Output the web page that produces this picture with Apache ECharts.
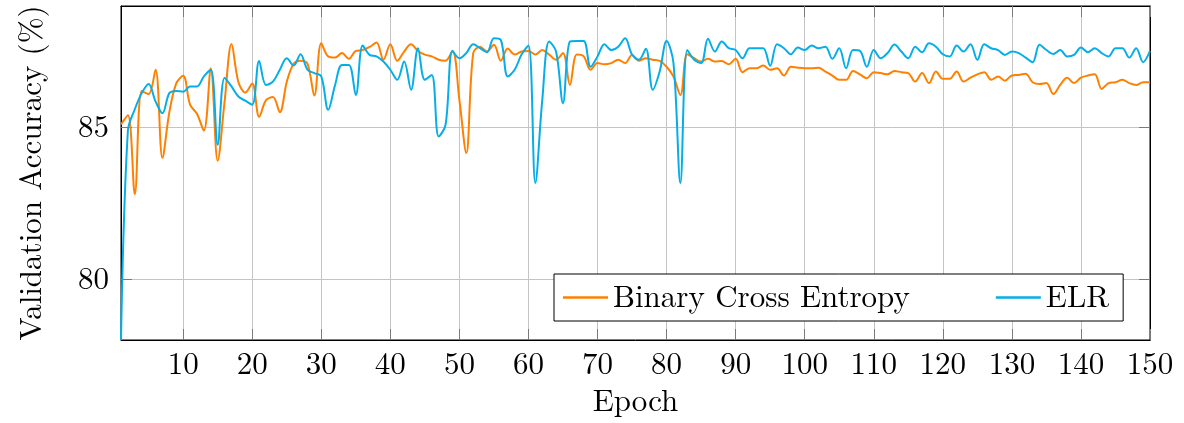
<!DOCTYPE html>
<html>
<head>
<meta charset="utf-8">
<script src="https://cdn.jsdelivr.net/npm/echarts@6/dist/echarts.min.js"></script>
<style>
  html, body { margin: 0; padding: 0; background: #fff; }
  #chart { width: 1184px; height: 423px; }
</style>
</head>
<body>
<div id="chart"></div>
<script>
// Validation accuracy (%) per epoch for two training losses
const seriesNames = ['Binary Cross Entropy', 'ELR'];
const xTicks = [10, 20, 30, 40, 50, 60, 70, 80, 90, 100, 110, 120, 130, 140, 150];
const yTicks = [80, 85];

const bce = [
  85.1, 85.4, 82.8, 86.2, 86.1, 86.9, 84.0, 85.5, 86.45, 86.7,
  85.75, 85.45, 84.9, 86.95, 83.9, 85.85, 87.75, 86.5, 86.15, 86.45,
  85.35, 85.9, 86.0, 85.5, 86.5, 87.1, 87.2, 87.1, 86.05, 87.77,
  87.34, 87.3, 87.45, 87.26, 87.52, 87.55, 87.65, 87.8, 87.23, 87.74,
  87.2, 87.5, 87.74, 87.52, 87.4, 87.34, 87.23, 87.2, 87.52, 85.9,
  84.16, 87.45, 87.66, 87.5, 87.72, 87.2, 87.6, 87.4, 87.5, 87.52,
  87.4, 87.55, 87.4, 87.23, 87.45, 86.4, 87.4, 87.34, 86.9, 87.12,
  87.08, 87.12, 87.23, 87.12, 87.39, 87.2, 87.28, 87.23, 87.19, 87.0,
  86.68, 86.07, 87.41, 87.28, 87.17, 87.26, 87.17, 87.19, 87.08, 87.26,
  86.82, 86.95, 86.95, 87.04, 86.9, 86.95, 86.71, 87.0, 86.97, 86.95,
  86.95, 86.97, 86.84, 86.71, 86.57, 86.57, 86.86, 86.75, 86.62, 86.82,
  86.79, 86.75, 86.86, 86.82, 86.79, 86.51, 86.79, 86.46, 86.84, 86.6,
  86.6, 86.84, 86.51, 86.64, 86.75, 86.82, 86.57, 86.68, 86.54, 86.71,
  86.73, 86.77, 86.49, 86.43, 86.46, 86.1, 86.4, 86.64, 86.46, 86.64,
  86.71, 86.75, 86.27, 86.46, 86.49, 86.57, 86.46, 86.4, 86.49, 86.49
];

const elr = [
  78.0, 84.9, 85.6, 86.13, 86.43, 85.86, 85.47, 86.13, 86.2, 86.18,
  86.35, 86.35, 86.68, 86.9, 84.43, 86.64, 86.35, 86.02, 85.88, 85.75,
  87.19, 86.4, 86.51, 86.9, 87.28, 87.04, 87.41, 86.9, 86.79, 86.68,
  85.58, 86.4, 87.06, 87.06, 86.07, 87.7, 87.39, 87.34, 87.17, 86.9,
  86.57, 87.17, 86.24, 87.61, 86.57, 86.73, 84.7, 85.09, 87.52, 87.28,
  87.45, 87.74, 87.61, 87.48, 87.94, 87.88, 86.68, 86.9, 87.4, 87.7,
  83.17, 85.9, 87.83, 87.5, 85.8, 87.83, 87.85, 87.85, 87.0, 87.34,
  87.74, 87.55, 87.66, 87.94, 87.4, 87.23, 87.59, 86.24, 86.84, 87.85,
  87.12, 83.17, 87.55, 87.23, 87.12, 87.92, 87.5, 87.83, 87.61, 87.55,
  87.28, 87.61, 87.61, 87.61, 87.03, 87.74, 87.61, 87.41, 87.63, 87.55,
  87.7, 87.61, 87.66, 87.26, 87.61, 86.95, 87.55, 87.52, 87.0, 87.55,
  87.28, 87.45, 87.73, 87.5, 87.28, 87.66, 87.48, 87.77, 87.66, 87.41,
  87.34, 87.7, 87.5, 87.74, 87.23, 87.74, 87.61, 87.55, 87.39, 87.5,
  87.45, 87.3, 87.15, 87.72, 87.55, 87.42, 87.55, 87.34, 87.39, 87.63,
  87.48, 87.61, 87.45, 87.34, 87.61, 87.61, 87.3, 87.61, 87.15, 87.52
];

const epochs = bce.map((_, i) => i + 1);

const FONT = "'Latin Modern Roman', 'CMU Serif', 'Liberation Serif', serif";
const FS = 31;
const ORANGE = '#ff8000';
const BLUE = '#05aee9';
const TICK_COLOR = '#7a7a7a';
const GRID_COLOR = '#c4c4c4';

const pairs = (ys) => epochs.map((e, i) => [e, ys[i]]);

const chart = echarts.init(document.getElementById('chart'), null, { renderer: 'canvas' });

const tickStyle = { show: true, inside: true, length: 11, lineStyle: { color: TICK_COLOR, width: 1 } };

chart.setOption({
  animation: false,
  backgroundColor: '#fff',
  textStyle: { fontFamily: FONT },
  grid: {
    left: 121, right: 34, top: 6, bottom: 83,
    show: true, borderColor: '#000', borderWidth: 1, backgroundColor: 'transparent'
  },
  legend: {
    data: [
      { name: seriesNames[0], icon: 'rect', itemStyle: { color: ORANGE } },
      { name: seriesNames[1], icon: 'rect', itemStyle: { color: BLUE } }
    ],
    left: 554, top: 274,
    orient: 'horizontal',
    itemWidth: 45, itemHeight: 2.5, itemGap: 86,
    padding: [8, 14, 8, 9],
    borderColor: '#000', borderWidth: 1,
    backgroundColor: '#fff',
    textStyle: { fontFamily: FONT, fontSize: FS, color: '#000' }
  },
  xAxis: [
    {
      type: 'value', min: 1, max: 150, position: 'bottom',
      name: 'Epoch', nameLocation: 'middle', nameGap: 46,
      nameTextStyle: { fontFamily: FONT, fontSize: FS, color: '#000' },
      axisLine: { show: true, lineStyle: { color: '#000', width: 1 } },
      axisTick: Object.assign({ customValues: xTicks }, tickStyle),
      axisLabel: { customValues: xTicks, margin: 9, fontFamily: FONT, fontSize: FS, color: '#000' },
      splitLine: { show: true, lineStyle: { color: GRID_COLOR, width: 1 } }
    },
    {
      type: 'value', min: 1, max: 150, position: 'top',
      axisLine: { show: true, lineStyle: { color: '#000', width: 1 } },
      axisTick: Object.assign({ customValues: xTicks }, tickStyle),
      axisLabel: { show: false },
      splitLine: { show: false }
    }
  ],
  yAxis: [
    {
      type: 'value', min: 78, max: 89, position: 'left',
      name: 'Validation Accuracy (%)', nameLocation: 'middle', nameGap: 74,
      nameTextStyle: { fontFamily: FONT, fontSize: FS, color: '#000' },
      axisLine: { show: true, lineStyle: { color: '#000', width: 1 } },
      axisTick: Object.assign({ customValues: yTicks }, tickStyle),
      axisLabel: { customValues: yTicks, margin: 12, fontFamily: FONT, fontSize: FS, color: '#000' },
      splitLine: { show: true, lineStyle: { color: GRID_COLOR, width: 1 } }
    },
    {
      type: 'value', min: 78, max: 89, position: 'right',
      axisLine: { show: true, lineStyle: { color: '#000', width: 1 } },
      axisTick: Object.assign({ customValues: yTicks }, tickStyle),
      axisLabel: { show: false },
      splitLine: { show: false }
    }
  ],
  series: [
    {
      name: seriesNames[0], type: 'line', data: pairs(bce),
      xAxisIndex: 0, yAxisIndex: 0,
      smooth: 0.35, symbol: 'none', clip: true,
      lineStyle: { color: ORANGE, width: 2 }, itemStyle: { color: ORANGE }
    },
    {
      name: seriesNames[1], type: 'line', data: pairs(elr),
      xAxisIndex: 0, yAxisIndex: 0,
      smooth: 0.35, symbol: 'none', clip: true,
      lineStyle: { color: BLUE, width: 2 }, itemStyle: { color: BLUE }
    }
  ]
});
</script>
</body>
</html>
